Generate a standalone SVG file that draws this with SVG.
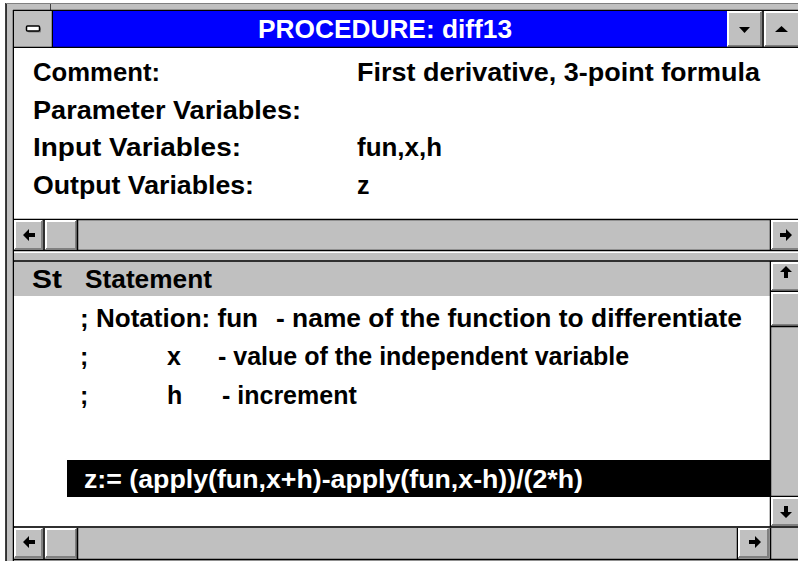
<svg xmlns="http://www.w3.org/2000/svg" xmlns:xlink="http://www.w3.org/1999/xlink" width="798" height="561" viewBox="0 0 798 561">
  <style>
    .face { fill: #C0C0C0; }
    .hl { fill: none; stroke: #FFFFFF; stroke-width: 2; }
    .sh { fill: none; stroke: #808080; stroke-width: 2; }
    .ln { stroke: #000000; stroke-width: 1.5; fill: none; }
    .txt { font-family: "Liberation Sans", Arial, sans-serif; font-weight: bold; font-size: 25px; fill: #000000; }
    .title { fill: #FFFFFF; }
    .inv { fill: #FFFFFF; }
  </style>
  <defs>
    <!-- right-pointing scroll arrow, rotated for the other directions -->
    <polygon id="arrow" points="-6,-2 0,-2 0,-6 6,0 0,6 0,2 -6,2" fill="#000000"/>
  </defs>

  <rect x="0" y="0" width="798" height="561" fill="#FFFFFF"/>

  <!-- window frame -->
  <g id="frame">
    <rect x="6" y="3" width="800" height="570" class="face"/>
    <line x1="6" y1="3" x2="6" y2="561" class="ln" stroke-width="2"/>
    <line x1="6" y1="3.5" x2="798" y2="3.5" stroke="#808080" stroke-width="1"/>
    <line x1="50.5" y1="4" x2="50.5" y2="10" stroke="#404040" stroke-width="1"/>
    <line x1="13.5" y1="10" x2="13.5" y2="561" class="ln"/>
    <line x1="13" y1="10.5" x2="798" y2="10.5" class="ln"/>
  </g>

  <!-- title bar -->
  <g id="title-bar">
    <rect x="14" y="11" width="38" height="36" class="face"/>
    <rect x="28" y="27.5" width="13" height="5" rx="1" fill="#808080"/>
    <rect x="26.5" y="26" width="13" height="5" rx="1" fill="#FFFFFF" stroke="#000000" stroke-width="1.5"/>
    <line x1="52.5" y1="11" x2="52.5" y2="47" class="ln"/>
    <rect x="53" y="11" width="674" height="36" fill="#0000FF"/>
    <text x="385" y="38" text-anchor="middle" class="txt title" textLength="254" lengthAdjust="spacingAndGlyphs">PROCEDURE: diff13</text>

    <rect x="727" y="11" width="35" height="36" class="face"/>
    <path d="M728 46 V12 H761" class="hl"/>
    <path d="M728 46 H761 V12" class="sh"/>
    <polygon points="739,27 750,27 744.5,33" fill="#000000"/>
    <line x1="763" y1="11" x2="763" y2="47" class="ln" stroke-width="2"/>

    <rect x="764" y="11" width="40" height="36" class="face"/>
    <path d="M765 46 V12 H798" class="hl"/>
    <path d="M765 46 H798" class="sh"/>
    <polygon points="775,32 788,32 781.5,26" fill="#000000"/>

    <line x1="13" y1="47.5" x2="798" y2="47.5" class="ln"/>
  </g>

  <!-- procedure header fields -->
  <g id="header-panel">
    <rect x="14" y="48" width="784" height="171" fill="#FFFFFF"/>
    <text x="33" y="81" class="txt" textLength="127" lengthAdjust="spacingAndGlyphs">Comment:</text>
    <text x="357" y="81" class="txt" textLength="403" lengthAdjust="spacingAndGlyphs">First derivative, 3-point formula</text>
    <text x="33" y="119" class="txt" textLength="268" lengthAdjust="spacingAndGlyphs">Parameter Variables:</text>
    <text x="33" y="156" class="txt" textLength="208" lengthAdjust="spacingAndGlyphs">Input Variables:</text>
    <text x="357" y="156" class="txt" textLength="85" lengthAdjust="spacingAndGlyphs">fun,x,h</text>
    <text x="33" y="194" class="txt" textLength="221" lengthAdjust="spacingAndGlyphs">Output Variables:</text>
    <text x="357" y="194" class="txt">z</text>
  </g>

  <!-- horizontal scrollbar of the header panel -->
  <g id="top-scrollbar">
    <rect x="14" y="220" width="784" height="30" class="face"/>
    <line x1="13" y1="219.5" x2="798" y2="219.5" class="ln"/>
    <line x1="13" y1="250.5" x2="798" y2="250.5" class="ln"/>
    <path d="M15 249 V221 H42" class="hl"/>
    <path d="M15 249 H42 V221" class="sh"/>
    <line x1="44" y1="220" x2="44" y2="250" class="ln"/>
    <path d="M46 249 V221 H76" class="hl"/>
    <path d="M46 249 H76 V221" class="sh"/>
    <line x1="77.5" y1="220" x2="77.5" y2="250" class="ln"/>
    <use xlink:href="#arrow" href="#arrow" transform="translate(29,235) rotate(180)"/>
    <line x1="770.5" y1="220" x2="770.5" y2="250" class="ln"/>
    <path d="M772 249 V221 H798" class="hl"/>
    <path d="M772 249 H798" class="sh"/>
    <use xlink:href="#arrow" href="#arrow" transform="translate(786,235)"/>
  </g>

  <!-- pane splitter -->
  <g id="splitter">
    <rect x="14" y="251" width="784" height="10" class="face"/>
    <line x1="14" y1="252.5" x2="798" y2="252.5" stroke="#FFFFFF" stroke-width="1"/>
    <line x1="13" y1="261" x2="798" y2="261" class="ln"/>
  </g>

  <!-- statement column header -->
  <g id="statement-header">
    <rect x="14" y="262" width="756" height="34" class="face"/>
    <text x="32" y="288" class="txt" textLength="30" lengthAdjust="spacingAndGlyphs">St</text>
    <text x="85" y="288" class="txt" textLength="127" lengthAdjust="spacingAndGlyphs">Statement</text>
  </g>

  <!-- statement list -->
  <g id="statement-list">
    <rect x="14" y="296" width="756" height="230" fill="#FFFFFF"/>
    <text x="80" y="327" class="txt" textLength="178" lengthAdjust="spacingAndGlyphs">; Notation: fun</text>
    <text x="276" y="327" class="txt" textLength="466" lengthAdjust="spacingAndGlyphs">- name of the function to differentiate</text>
    <text x="80" y="365" class="txt">;</text>
    <text x="167" y="365" class="txt">x</text>
    <text x="218" y="365" class="txt">- value of the independent variable</text>
    <text x="80" y="404" class="txt">;</text>
    <text x="167" y="404" class="txt">h</text>
    <text x="222" y="404" class="txt">- increment</text>
    <rect x="67" y="460" width="703" height="37" fill="#000000"/>
    <text x="84" y="488" class="txt inv" textLength="499" lengthAdjust="spacingAndGlyphs">z:= (apply(fun,x+h)-apply(fun,x-h))/(2*h)</text>
  </g>

  <!-- vertical scrollbar of the statement list -->
  <g id="v-scrollbar">
    <rect x="771" y="262" width="27" height="265" class="face"/>
    <line x1="770.5" y1="261" x2="770.5" y2="527" class="ln"/>
    <path d="M772 290 V263 H798" class="hl"/>
    <path d="M772 290 H798" class="sh"/>
    <use xlink:href="#arrow" href="#arrow" transform="translate(786,272) rotate(-90)"/>
    <line x1="771" y1="291.5" x2="798" y2="291.5" class="ln"/>
    <path d="M772 325 V293 H798" class="hl"/>
    <path d="M772 325 H798" class="sh"/>
    <line x1="771" y1="326.5" x2="798" y2="326.5" class="ln"/>
    <line x1="771" y1="496.5" x2="798" y2="496.5" class="ln"/>
    <path d="M772 525 V498 H798" class="hl"/>
    <path d="M772 525 H798" class="sh"/>
    <use xlink:href="#arrow" href="#arrow" transform="translate(786,512) rotate(90)"/>
  </g>

  <!-- horizontal scrollbar of the statement list -->
  <g id="bottom-scrollbar">
    <rect x="14" y="528" width="784" height="33" class="face"/>
    <line x1="13" y1="527" x2="798" y2="527" class="ln"/>
    <path d="M15 557 V529 H42" class="hl"/>
    <path d="M15 557 H42 V529" class="sh"/>
    <line x1="44" y1="528" x2="44" y2="559" class="ln"/>
    <path d="M46 557 V529 H76" class="hl"/>
    <path d="M46 557 H76 V529" class="sh"/>
    <line x1="77.5" y1="528" x2="77.5" y2="559" class="ln"/>
    <use xlink:href="#arrow" href="#arrow" transform="translate(29,542) rotate(180)"/>
    <line x1="737.5" y1="528" x2="737.5" y2="559" class="ln"/>
    <path d="M739 557 V529 H768" class="hl"/>
    <path d="M739 557 H768 V529" class="sh"/>
    <line x1="770.5" y1="528" x2="770.5" y2="559" class="ln"/>
    <use xlink:href="#arrow" href="#arrow" transform="translate(755,542)"/>
    <line x1="13" y1="559.5" x2="798" y2="559.5" class="ln"/>
  </g>
</svg>
